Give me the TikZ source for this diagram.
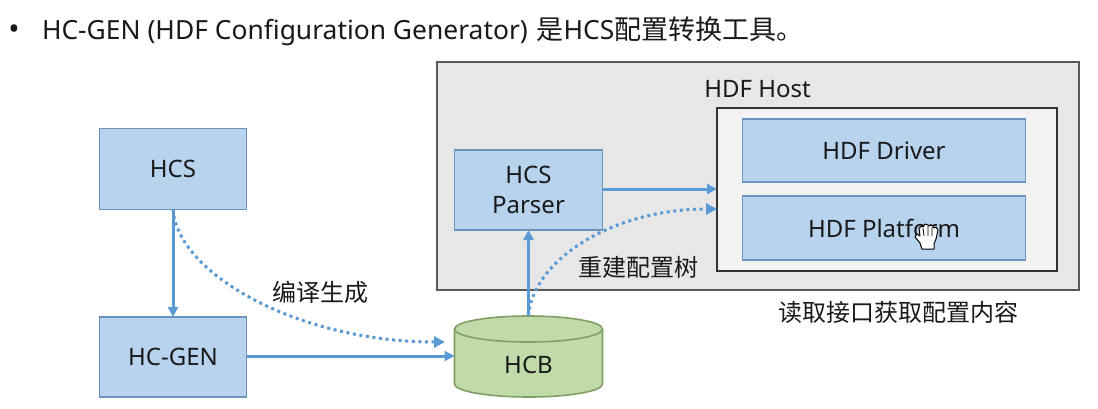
\documentclass[tikz,border=0pt]{standalone}
\usepackage{fontspec}
\setmainfont{Noto Sans}
\newfontfamily\cjk{Noto Sans CJK SC}
\usetikzlibrary{arrows.meta}
\definecolor{boxblue}{HTML}{B7D3EE}
\definecolor{boxedge}{HTML}{6A94BE}
\definecolor{arrowblue}{HTML}{5B9BD5}
\definecolor{hostgrey}{HTML}{E7E7E7}
\definecolor{innergrey}{HTML}{F2F2F2}
\definecolor{hcbgreen}{HTML}{C0DAAA}
\definecolor{hcbedge}{HTML}{7F9F63}
\definecolor{inktext}{HTML}{1A1A1A}
\tikzset{
  x=1pt,y=-1pt,
  every node/.style={text=inktext,font=\fontsize{24}{29}\selectfont,inner sep=0pt,outer sep=0pt},
  bluebox/.style={draw=boxedge,line width=1.6pt,fill=boxblue,align=center,anchor=north west},
  flow/.style={draw=arrowblue,line width=3pt,-{Triangle[length=10pt,width=10pt]}},
  dotflow/.style={draw=arrowblue,line width=3pt,dash pattern=on 3pt off 3.6pt,-{Triangle[length=11pt,width=11pt]}},
  cjklabel/.style={font=\cjk\fontsize{24}{29}\selectfont},
}
\begin{document}
\begin{tikzpicture}
\useasboundingbox (0,0) rectangle (1098,409);
\fill[white] (0,0) rectangle (1098,409);
% heading
\node[anchor=base,font=\fontsize{30}{30}\selectfont] (bullet) at (14,40) {•};
\node[anchor=base west,font=\fontsize{26.4}{30}\selectfont] (title) at (42,40) {HC-GEN (HDF Configuration Generator)\hspace{2pt} {\cjk\fontsize{27}{30}\selectfont 是}HCS{\cjk\fontsize{27}{30}\selectfont 配置转换工具。}};
% containers
\node[draw=black!65,line width=1.5pt,fill=hostgrey,anchor=north west,minimum width=642pt,minimum height=228pt] (host) at (437,62) {};
\node (hosttitle) at (757.5,89) {HDF Host};
\node[draw=black!80,line width=1.1pt,fill=innergrey,anchor=north west,minimum width=340pt,minimum height=163pt] (inner) at (717,108) {};
% boxes
\node[bluebox,minimum width=283pt,minimum height=63pt] (driver) at (742.5,119) {HDF Driver};
\node[bluebox,minimum width=283pt,minimum height=64pt] (platform) at (742.5,196) {HDF Platform};
\node[bluebox,minimum width=148pt,minimum height=80pt] (parser) at (454.5,150) {HCS\\[1pt]Parser};
\node[bluebox,minimum width=147pt,minimum height=81pt] (hcs) at (99.5,128.5) {HCS};
\node[bluebox,minimum width=147pt,minimum height=80pt] (hcgen) at (99.5,317) {HC-GEN};
% cylinder
\node[anchor=north west,minimum width=148pt,minimum height=81pt] (hcb) at (454.5,316) {};
\filldraw[draw=hcbedge,line width=1.6pt,fill=hcbgreen]
  (hcb.west |- 0,329) arc[start angle=180,end angle=0,x radius=74,y radius=-13]
  -- (hcb.east |- 0,384) arc[start angle=0,end angle=-180,x radius=74,y radius=-13] -- cycle;
\draw[hcbedge,line width=1.6pt]
  (hcb.west |- 0,329) arc[start angle=180,end angle=360,x radius=74,y radius=-13];
\node (hcblabel) at (528.5,365) {HCB};
% connectors
\coordinate (hcbin) at (hcb.west |- 0,356);
\coordinate (hcbdot) at (445,342);
\coordinate (innerA) at (inner.west |- 0,189);
\coordinate (innerB) at (inner.west |- 0,209);
\draw[flow] (hcs.south) -- (hcgen.north);
\draw[flow] (hcgen.east |- hcbin) -- (hcbin);
\draw[flow] (hcb.north) -- (hcb.north |- parser.south);
\draw[flow] (parser.east |- innerA) -- (innerA);
\draw[dotflow] (hcs.south) .. controls (178,275) and (300,342) .. (hcbdot);
\draw[dotflow] (hcb.north) .. controls (532,262) and (610,209) .. (innerB);
% labels
\node[cjklabel] (lblbuild) at (320,292) {编译生成};
\node[cjklabel] (lbltree) at (638,267) {重建配置树};
\node[cjklabel] (lblread) at (898,312) {读取接口获取配置内容};
% hand cursor over the text
\begin{scope}[shift={(926,235)}]
\filldraw[draw=black,line width=1pt,fill=white,line join=round]
  (-4,14) -- (-6,8) -- (-11,2) -- (-9,-1) -- (-6,1) -- (-7,-7) -- (-4,-9) -- (-3,-8) -- (-1,-11) -- (2,-10) -- (3,-9) -- (6,-10) -- (8,-7) -- (10,-8) -- (12,-5) -- (10,4) -- (8,9) -- (8,14) -- cycle;
\draw[black,line width=.8pt] (-3,-7) -- (-2,1) (2,-9) -- (2,1) (6,-8) -- (6,1);
\end{scope}
\end{tikzpicture}
\end{document}
